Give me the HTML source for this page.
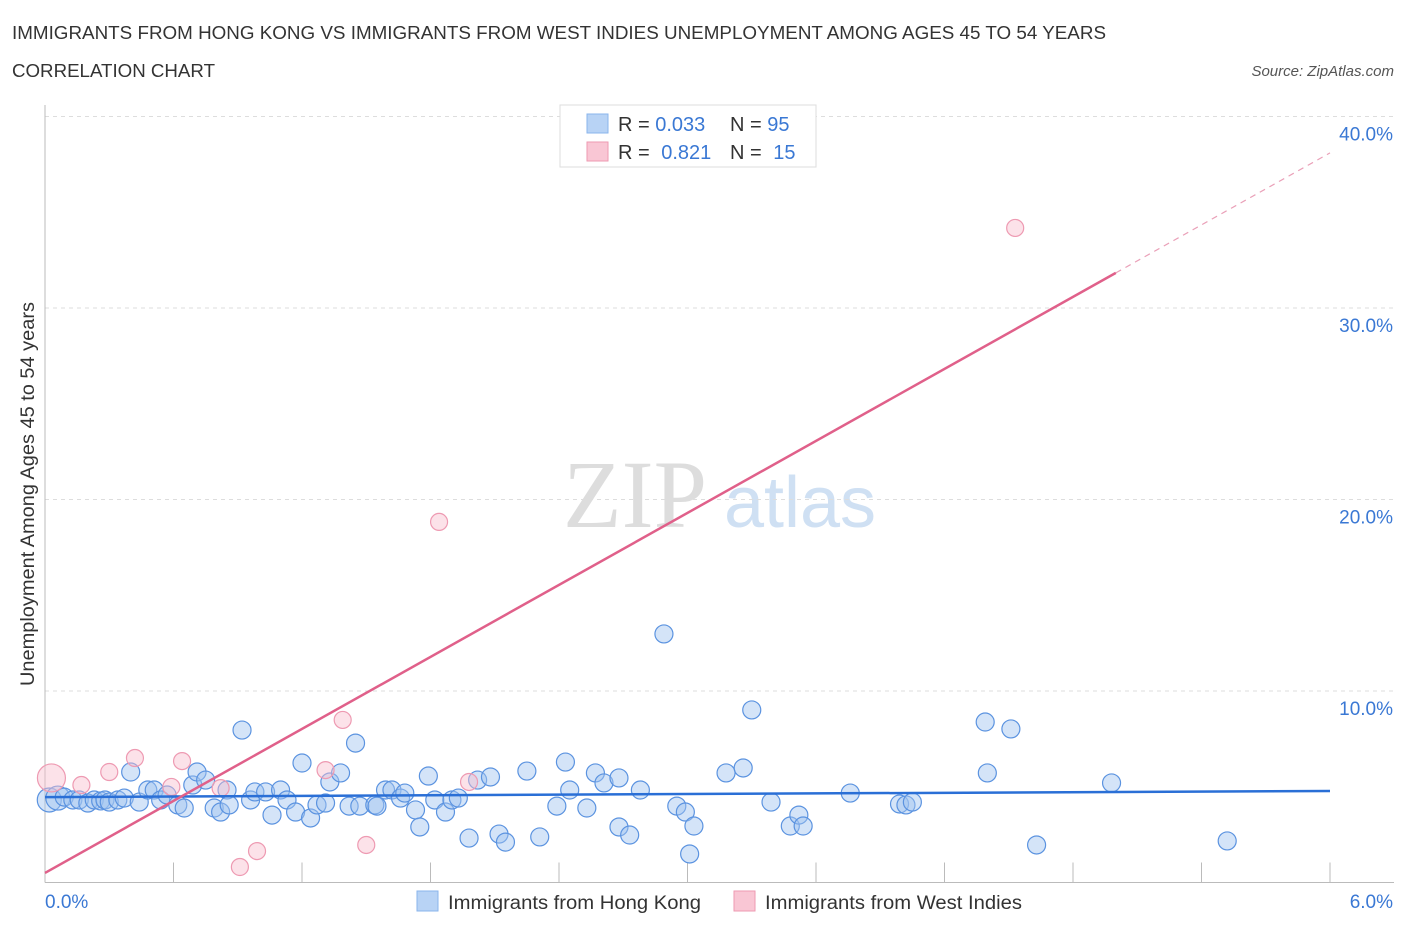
<!DOCTYPE html>
<html><head><meta charset="utf-8">
<style>
body{margin:0;background:#fff;font-family:"Liberation Sans",sans-serif;}
svg{display:block}
</style></head>
<body>
<svg id="chart" width="1406" height="930" xmlns="http://www.w3.org/2000/svg">
<text x="12" y="39" font-size="18" fill="#333" textLength="1094" lengthAdjust="spacingAndGlyphs">IMMIGRANTS FROM HONG KONG VS IMMIGRANTS FROM WEST INDIES UNEMPLOYMENT AMONG AGES 45 TO 54 YEARS</text>
<text x="12" y="77" font-size="18" fill="#333" textLength="203" lengthAdjust="spacingAndGlyphs">CORRELATION CHART</text>
<text x="1394" y="76" font-size="15" fill="#555" font-style="italic" text-anchor="end">Source: ZipAtlas.com</text>
<g>
<text x="635" y="527" font-size="96" fill="#ddd" font-family="Liberation Serif,serif" text-anchor="middle">ZIP</text>
<text x="800" y="527" font-size="72" fill="#cfe0f3" text-anchor="middle">atlas</text>
</g>
<g id="grid"></g>
<g id="axes"></g>
<g id="marks"></g>
<text transform="translate(34,494) rotate(-90)" font-size="19" fill="#333" text-anchor="middle" textLength="384" lengthAdjust="spacingAndGlyphs">Unemployment Among Ages 45 to 54 years</text>
<g>
<rect x="560" y="105" width="256" height="62" fill="#fff" stroke="#ddd"/>
<rect x="587" y="114" width="21" height="19" fill="#b8d3f5" stroke="#8ab4ec"/>
<rect x="587" y="142" width="21" height="19" fill="#f9c6d4" stroke="#ee9ab2"/>
<text x="618" y="131" font-size="20" fill="#333">R = <tspan fill="#3a78d4">0.033</tspan></text>
<text x="730" y="131" font-size="20" fill="#333">N = <tspan fill="#3a78d4">95</tspan></text>
<text x="618" y="159" font-size="20" fill="#333">R = <tspan fill="#3a78d4" dx="6">0.821</tspan></text>
<text x="730" y="159" font-size="20" fill="#333">N = <tspan fill="#3a78d4" dx="6">15</tspan></text>
</g>
<g>
<rect x="417" y="891" width="21" height="20" fill="#b8d3f5" stroke="#8ab4ec"/>
<text x="448" y="909" font-size="19" fill="#333" textLength="253" lengthAdjust="spacingAndGlyphs">Immigrants from Hong Kong</text>
<rect x="734" y="891" width="21" height="20" fill="#f9c6d4" stroke="#ee9ab2"/>
<text x="765" y="909" font-size="19" fill="#333" textLength="257" lengthAdjust="spacingAndGlyphs">Immigrants from West Indies</text>
</g>
</svg>
<script>
const hkX=[0.02,0.06,0.09,0.13,0.16,0.20,0.23,0.26,0.28,0.30,0.34,0.37,0.40,0.44,0.48,0.51,0.54,0.57,0.62,0.65,0.69,0.71,0.75,0.79,0.82,0.85,0.86,0.92,0.96,0.98,1.03,1.06,1.10,1.13,1.17,1.20,1.24,1.27,1.31,1.33,1.38,1.42,1.45,1.47,1.54,1.55,1.59,1.62,1.66,1.68,1.73,1.75,1.79,1.82,1.87,1.90,1.93,1.98,2.02,2.08,2.12,2.15,2.25,2.31,2.39,2.43,2.45,2.53,2.57,2.61,2.68,2.68,2.73,2.78,2.89,2.95,2.99,3.03,3.01,3.18,3.26,3.30,3.39,3.48,3.52,3.54,3.76,3.99,4.02,4.05,4.39,4.40,4.51,4.63,4.98,5.52];
const hkY=[4.31,4.41,4.46,4.31,4.31,4.15,4.31,4.26,4.31,4.20,4.31,4.41,5.77,4.20,4.83,4.83,4.31,4.57,4.05,3.89,5.09,5.77,5.35,3.89,3.68,4.83,4.05,7.96,4.31,4.73,4.73,3.52,4.83,4.31,3.68,6.24,3.37,4.05,4.15,5.25,5.72,3.99,7.28,3.99,4.05,3.99,4.83,4.83,4.41,4.67,3.79,2.90,5.56,4.31,3.68,4.31,4.41,2.32,5.35,5.51,2.53,2.11,5.82,2.38,3.99,6.29,4.83,3.89,5.72,5.20,5.46,2.90,2.48,4.83,12.98,3.99,3.68,2.95,1.49,5.72,5.98,9.01,4.20,2.95,3.52,2.95,4.67,4.10,4.05,4.20,8.38,5.72,8.02,1.96,5.20,2.17];
const wiX=[0.03,0.17,0.30,0.42,0.59,0.64,0.82,0.91,0.99,1.31,1.39,1.50,1.84,1.98,4.53];
const wiY=[5.46,5.09,5.77,6.50,4.99,6.34,4.93,0.81,1.64,5.87,8.49,1.96,18.83,5.25,34.18];
const yTicks=[10,20,30,40];
const yTickLabels=["10.0%","20.0%","30.0%","40.0%"];
const hkTrend=[4.46,4.78];
const wiTrend=[0.50,38.1];
const wiSolidEnd=5.0;

const NS="http://www.w3.org/2000/svg";
const X0=45,X1=1330,Y0=882.5,YS=19.15;
const xs=v=>X0+(v/6)*(X1-X0);
const ys=v=>Y0-v*YS;
function mk(tag,attrs,parent){const e=document.createElementNS(NS,tag);for(const k in attrs)e.setAttribute(k,attrs[k]);document.getElementById(parent).appendChild(e);return e;}

yTicks.forEach((t,i)=>{
  const g=mk('line',{x1:X0,x2:1394,y1:ys(t),y2:ys(t),stroke:'#ddd','stroke-dasharray':'4,4'},'grid');
  
  
  const l=mk('text',{x:1393,y:ys(t)+24,'font-size':19,fill:'#3a78d4','text-anchor':'end'},'axes');
  l.textContent=yTickLabels[i];
  
  
});
const ax=mk('line',{x1:X0,x2:X0,y1:105,y2:Y0,stroke:'#bbb'},'axes');


const bx=mk('line',{x1:X0,x2:1394,y1:Y0,y2:Y0,stroke:'#bbb'},'axes');


for(let i=1;i<=10;i++){
  const t=mk('line',{x1:xs(i*0.6),x2:xs(i*0.6),y1:Y0-20,y2:Y0,stroke:'#bbb'},'axes');
  
  
}
const xl0=mk('text',{x:45,y:908,'font-size':19,fill:'#3a78d4'},'axes');xl0.textContent='0.0%';


const xl1=mk('text',{x:1393,y:908,'font-size':19,fill:'#3a78d4','text-anchor':'end'},'axes');xl1.textContent='6.0%';



hkX.forEach((x,i)=>{
  const c=mk('circle',{cx:xs(x),cy:ys(hkY[i]),r:(i<2?12:9),fill:'rgba(160,196,240,0.45)',stroke:'#5b93e0','stroke-width':1.2},'marks');
  
  
});
wiX.forEach((x,i)=>{
  const c=mk('circle',{cx:xs(x),cy:ys(wiY[i]),r:(i==0?14:8.5),fill:'rgba(248,190,206,0.45)',stroke:'#ee9ab2','stroke-width':1.2},'marks');
  
  
});
const t1=mk('line',{x1:xs(0),y1:ys(hkTrend[0]),x2:xs(6),y2:ys(hkTrend[1]),stroke:'#2a6fd6','stroke-width':2.5},'marks');


const wv=x=>wiTrend[0]+(wiTrend[1]-wiTrend[0])*x/6;
const t2=mk('line',{x1:xs(0),y1:ys(wv(0)),x2:xs(wiSolidEnd),y2:ys(wv(wiSolidEnd)),stroke:'#e0608a','stroke-width':2.5},'marks');


const t3=mk('line',{x1:xs(wiSolidEnd),y1:ys(wv(wiSolidEnd)),x2:xs(6),y2:ys(wv(6)),stroke:'#eaa0b8','stroke-width':1.2,'stroke-dasharray':'6,5'},'marks');


</script>
</body></html>
